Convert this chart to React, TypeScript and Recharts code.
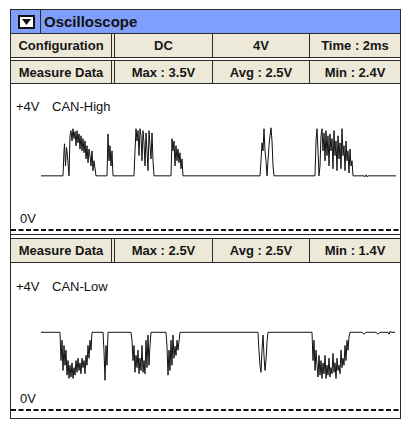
import React from 'react';
import { LineChart, Line, XAxis, YAxis, ReferenceLine } from 'recharts';

// header rows
const configRow = ['Configuration', 'DC', '4V', 'Time : 2ms'];
const measureHigh = ['Measure Data', 'Max : 3.5V', 'Avg : 2.5V', 'Min : 2.4V'];
const measureLow = ['Measure Data', 'Max : 2.5V', 'Avg : 2.5V', 'Min : 1.4V'];

// channel labels
const highLabels = { top: '+4V', name: 'CAN-High', zero: '0V' };
const lowLabels = { top: '+4V', name: 'CAN-Low', zero: '0V' };

// sample index, volts
const canHigh: [number, number][] = [
    [0, 2.5], [22, 2.5], [23, 3.03], [23.5, 3.18], [24.5, 2.71], [25.5, 3.1], [26.5, 2.93], [28, 2.5],
    [29, 3.35], [30, 3.46], [31, 3.24], [32, 3.5], [33, 3.29], [34, 3.44], [35, 3.14], [36, 3.46],
    [37, 3.2], [38, 3.39], [39, 3.07], [40, 3.35], [41, 3.03], [42, 3.29], [43, 2.99], [44, 3.24],
    [45, 2.86], [46, 3.14], [47, 2.78], [48, 3.07], [49, 2.93], [50, 2.71], [51, 3.03], [52, 2.61],
    [53, 2.82], [55, 2.5], [66, 2.5], [67, 3.39], [68, 2.82], [69, 3.14], [70, 2.71], [71, 3.03],
    [72, 2.5], [93, 2.5], [94, 3.03], [95, 3.5], [96, 3.24], [97, 3.46], [98, 2.93], [99, 3.5],
    [100, 3.35], [101, 2.82], [102, 3.46], [103, 3.2], [104, 2.71], [105, 3.41], [106, 3.03], [107, 2.61],
    [108, 3.46], [109, 3.14], [110, 2.86], [111, 3.41], [112, 2.82], [113, 2.5], [130, 2.5], [131, 3.29],
    [132, 3.03], [133, 3.24], [134, 2.71], [135, 3.14], [136, 2.82], [137, 3.07], [138, 2.78], [139, 2.99],
    [140, 2.65], [141, 2.86], [142, 2.5], [219, 2.5], [220, 2.82], [221, 3.2], [222, 3.03], [223, 3.5],
    [224, 3.03], [225, 2.82], [226, 2.5], [227, 2.82], [228, 3.14], [229, 3.35], [230, 3.52], [231, 3.24],
    [232, 2.71], [233, 2.5], [274, 2.5], [275, 3.24], [276, 3.5], [277, 3.03], [278, 2.5], [279, 2.71],
    [280, 3.35], [281, 3.5], [282, 3.03], [283, 3.41], [284, 2.82], [285, 3.46], [286, 2.93], [287, 3.35],
    [288, 2.71], [289, 3.39], [290, 3.03], [291, 3.29], [292, 2.65], [293, 3.46], [294, 2.93], [295, 3.24],
    [296, 2.61], [297, 3.35], [298, 2.86], [299, 3.2], [300, 2.65], [301, 3.5], [302, 2.93], [303, 3.14],
    [304, 2.61], [305, 3.24], [306, 2.82], [307, 3.03], [308, 2.56], [309, 3.07], [310, 2.71], [311, 2.82],
    [312, 2.5], [323, 2.5], [324, 2.48], [325, 2.52], [326, 2.48], [327, 2.5], [355, 2.5],
];

const canLow: [number, number][] = [
    [0, 2.5], [19, 2.5], [20, 1.9], [21, 2.33], [22, 1.69], [23, 2.22], [24, 1.8], [25, 2.12],
    [26, 1.59], [27, 1.9], [28, 1.52], [29, 1.8], [30, 1.55], [31, 1.85], [32, 1.52], [33, 1.75],
    [34, 1.59], [35, 1.9], [36, 1.65], [37, 1.95], [38, 1.69], [39, 1.85], [40, 1.62], [41, 1.95],
    [42, 1.75], [43, 1.9], [44, 1.62], [45, 2.01], [46, 1.8], [47, 2.22], [48, 1.95], [49, 2.33],
    [50, 2.12], [51, 2.5], [62, 2.5], [63, 2.1], [64, 1.48], [65, 2.22], [66, 1.8], [67, 2.5],
    [90, 2.5], [91, 2.33], [92, 1.9], [93, 2.22], [94, 1.65], [95, 2.01], [96, 1.75], [97, 2.12],
    [98, 1.62], [99, 1.95], [100, 1.69], [101, 2.22], [102, 1.65], [103, 1.9], [104, 1.62], [105, 2.33],
    [106, 1.75], [107, 2.44], [108, 1.8], [109, 2.22], [110, 2.5], [125, 2.5], [126, 2.2], [127, 1.59],
    [128, 2.12], [129, 1.69], [130, 2.33], [131, 1.8], [132, 2.44], [133, 1.95], [134, 2.2], [135, 2.01],
    [136, 2.33], [137, 2.12], [139, 2.5], [217, 2.5], [218, 2.1], [219, 1.8], [220, 1.65], [221, 2.12],
    [222, 2.44], [223, 2.0], [224, 1.69], [225, 1.9], [226, 2.3], [227, 2.5], [271, 2.5], [272, 1.9],
    [273, 2.33], [274, 1.69], [275, 2.12], [276, 1.8], [277, 1.55], [278, 2.01], [279, 1.59], [280, 1.9],
    [281, 1.52], [282, 1.85], [283, 1.62], [284, 2.01], [285, 1.52], [286, 1.8], [287, 1.59], [288, 1.95],
    [289, 1.55], [290, 1.75], [291, 1.62], [292, 2.05], [293, 1.65], [294, 1.85], [295, 1.52], [296, 1.95],
    [297, 1.69], [298, 1.8], [299, 1.62], [300, 2.12], [301, 1.75], [302, 1.95], [303, 1.8], [304, 2.22],
    [305, 1.9], [306, 2.33], [307, 2.12], [308, 2.4], [309, 2.5], [321, 2.5], [323, 2.46], [325, 2.5],
    [335, 2.5], [337, 2.46], [339, 2.5], [347, 2.5], [348, 2.46], [349, 2.52], [350, 2.5], [354, 2.5],
];

const highDomain: [number, number] = [1.35, 4.45];
const lowDomain: [number, number] = [0.85, 3.95];

const FONT = '"Liberation Sans", Arial, Helvetica, sans-serif';
const LINE = '#2a2a2a';
const BEIGE = '#ece9d8';
const BLUE = '#809ffc';

const box = (left: number, top: number, width: number, height: number, extra: React.CSSProperties = {}): React.CSSProperties => ({
    position: 'absolute', left, top, width, height, boxSizing: 'border-box', ...extra,
});

function HLine({ y }: { y: number }) {
    return <div style={box(11, y, 389, 1, { background: LINE })} />;
}

function VLines({ y, h }: { y: number; h: number }) {
    return (
        <>
            {[111, 114, 212, 309].map(x => (
                <div key={x} style={box(x, y, 1, h, { background: LINE })} />
            ))}
        </>
    );
}

// one beige row of four cells
function TableRow({ y, cells }: { y: number; cells: string[] }) {
    const spans = [[11, 111], [115, 212], [213, 309], [310, 400]];
    return (
        <>
            <div style={box(11, y, 389, 23, { background: BEIGE })} />
            {cells.map((c, i) => (
                <div key={i} style={box(spans[i][0], y, spans[i][1] - spans[i][0], 23, {
                    display: 'flex', alignItems: 'center', justifyContent: 'center',
                    fontWeight: 'bold', fontSize: 13, color: '#151515',
                })}>{c}</div>
            ))}
            <VLines y={y} h={23} />
        </>
    );
}

function Scope({ top, data, domain, labels }: {
    top: number; data: [number, number][]; domain: [number, number];
    labels: { top: string; name: string; zero: string };
}) {
    const rows = data.map(([t, v]) => ({ t, v }));
    return (
        <>
            <div style={box(16, top + 15, 40, 16, { fontSize: 13, color: '#111', lineHeight: '16px' })}>{labels.top}</div>
            <div style={box(52, top + 15, 80, 16, { fontSize: 13, color: '#111', lineHeight: '16px' })}>{labels.name}</div>
            <div style={box(20, top + 127, 30, 16, { fontSize: 13, color: '#111', lineHeight: '16px' })}>{labels.zero}</div>
            <div style={box(11, top - 3, 389, 153)}>
                <LineChart width={389} height={153} data={rows} margin={{ top: 3, right: 0, bottom: 0, left: 0 }}>
                    <XAxis
                        dataKey="t"
                        type="number"
                        domain={[0, 355]}
                        padding={{ left: 30, right: 4 }}
                        height={4}
                        tick={false}
                        tickLine={false}
                        axisLine={false}
                    />
                    <YAxis hide type="number" domain={domain} allowDataOverflow />
                    <ReferenceLine y={domain[0]} stroke="#111" strokeWidth={2} strokeDasharray="5 2.5" />
                    <Line
                        dataKey="v"
                        type="linear"
                        stroke="#111"
                        strokeWidth={1}
                        dot={false}
                        isAnimationActive={false}
                    />
                </LineChart>
            </div>
        </>
    );
}

export default function App() {
    return (
        <div style={{ position: 'absolute', left: 0, top: 0, width: 411, height: 428, background: '#fff', fontFamily: FONT }}>
            {/* outer frame */}
            <div style={box(10, 9, 391, 410, { border: `1px solid ${LINE}` })} />

            {/* title bar */}
            <div style={box(11, 10, 389, 23, { background: BLUE })} />
            <div style={box(40, 10, 1, 23, { background: LINE })} />
            <svg style={{ position: 'absolute', left: 18, top: 15 }} width={17} height={14}>
                <rect x={1} y={1} width={15} height={12} fill="#fff" stroke="#111" strokeWidth={2} />
                <path d="M4 4 L13 4 L8.5 10 Z" fill="#111" />
            </svg>
            <div style={box(44, 10, 200, 23, { display: 'flex', alignItems: 'center', fontWeight: 'bold', fontSize: 15, color: '#111' })}>
                Oscilloscope
            </div>
            <HLine y={33} />

            <TableRow y={34} cells={configRow} />
            <HLine y={57} />
            <HLine y={60} />
            <TableRow y={61} cells={measureHigh} />
            <HLine y={83} />

            <Scope top={84} data={canHigh} domain={highDomain} labels={highLabels} />

            <HLine y={234} />
            <HLine y={238} />
            <TableRow y={239} cells={measureLow} />
            <HLine y={262} />

            <Scope top={264} data={canLow} domain={lowDomain} labels={lowLabels} />
        </div>
    );
}
